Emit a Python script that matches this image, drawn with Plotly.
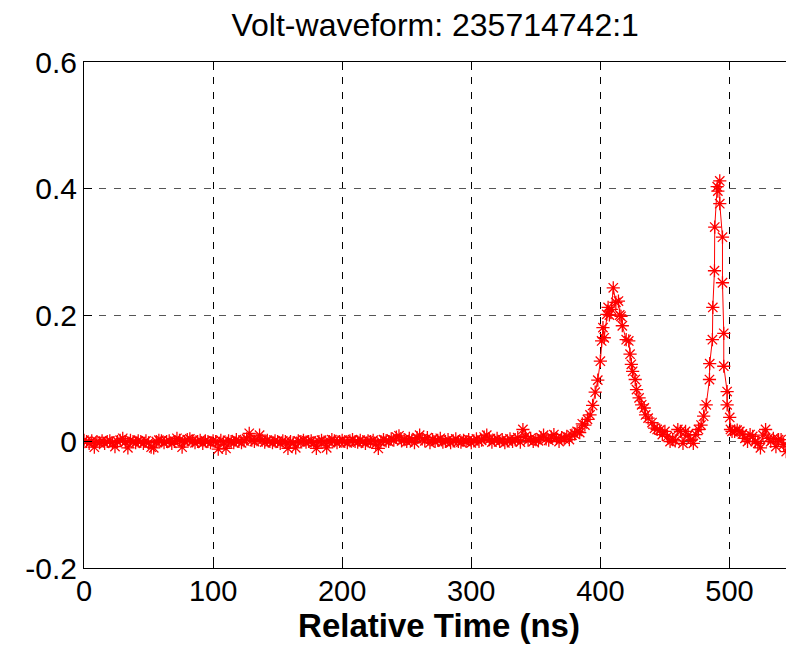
import plotly.graph_objects as go

# ---- data ----
# baseline part: samples every 2 ns from 0 to 378 ns
baseline_t = list(range(0, 380, 2))
baseline_v = [
    0.002, 0.000, -0.003, 0.001, -0.009, 0.000, -0.002, 0.001, -0.003, 0.000,
    0.001, -0.002, -0.008, 0.000, 0.002, 0.005, -0.001, -0.010, 0.002, 0.000,
    -0.002, 0.001, 0.000, -0.003, 0.001, -0.002, -0.009, -0.010, 0.000, 0.002,
    0.001, -0.002, 0.000, 0.001, -0.003, 0.000, 0.005, 0.002, -0.009, 0.000,
    0.003, 0.004, 0.001, -0.002, 0.000, 0.002, -0.003, 0.001, 0.000, -0.002,
    0.001, 0.000, -0.012, 0.002, -0.001, -0.011, 0.001, 0.000, -0.002, 0.003,
    0.000, -0.002, 0.001, 0.004, 0.013, 0.002, 0.000, 0.003, 0.010, 0.002,
    -0.001, 0.002, 0.000, -0.002, 0.001, 0.000, -0.003, 0.001, 0.000, -0.011,
    0.000, -0.002, -0.010, 0.001, 0.000, 0.002, -0.001, 0.000, 0.001, -0.002,
    -0.011, 0.000, 0.002, -0.001, -0.010, 0.000, 0.003, 0.001, -0.002, 0.000,
    0.002, 0.000, -0.002, 0.001, 0.003, 0.000, -0.001, 0.002, 0.000, -0.003,
    0.001, 0.000, 0.002, -0.004, -0.011, 0.000, 0.003, 0.001, 0.000, 0.004,
    0.002, 0.007, 0.009, 0.001, 0.003, 0.000, 0.005, 0.002, -0.002, 0.006,
    0.010, 0.004, 0.001, 0.006, -0.002, 0.003, 0.000, 0.002, 0.005, -0.001,
    0.000, 0.003, -0.002, 0.001, 0.004, 0.000, -0.001, 0.002, 0.000, 0.003,
    -0.002, 0.001, 0.004, 0.000, 0.002, 0.007, 0.010, 0.003, -0.001, 0.002,
    0.005, 0.000, 0.003, -0.002, 0.001, 0.004, 0.000, 0.003, 0.006, -0.001,
    0.019, 0.008, 0.002, 0.005, 0.000, 0.003, 0.001, 0.006, 0.010, 0.004,
    0.002, 0.007, 0.011, 0.005, 0.000, 0.006, 0.004, 0.008, 0.003, 0.010,
]

# pulse part (two peaks) and tail
pulse_t = [
    380, 382, 384, 386, 388, 390, 392, 394, 396, 398,
    400, 401, 402, 403, 405, 406, 407, 408.5, 410, 412,
    414, 415, 416, 417, 420, 422, 423, 424, 425, 427,
    428, 430, 432, 434, 435, 437, 440, 442, 444, 446,
    448, 450, 452, 454, 456, 458, 460, 462, 464, 466,
    468, 470, 472, 474, 476, 478, 480, 482, 484.5, 484.7,
    486.8, 487.1, 488.4, 488.6, 490.5, 491.0, 492.5, 492.5, 494.6, 494.6,
    495.6, 495.6, 498.2, 498.2, 500.2, 500.8, 502, 504, 506, 508,
    510, 512, 514, 516, 518, 520, 522, 524, 526, 528,
    530, 532, 534, 536, 538, 540, 542, 544,
]
pulse_v = [
    0.012, 0.016, 0.014, 0.028, 0.026, 0.035, 0.042, 0.057, 0.078, 0.097,
    0.127, 0.159, 0.180, 0.164, 0.201, 0.212, 0.200, 0.209, 0.243, 0.220,
    0.222, 0.200, 0.198, 0.183, 0.161, 0.159, 0.138, 0.122, 0.111, 0.098,
    0.082, 0.069, 0.058, 0.053, 0.042, 0.037, 0.030, 0.021, 0.019, 0.018,
    0.011, 0.016, 0.008, 0.000, 0.003, 0.001, 0.019, 0.016, -0.003, 0.016,
    0.010, 0.002, -0.003, 0.011, 0.019, 0.026, 0.040, 0.058, 0.098, 0.123,
    0.161, 0.212, 0.270, 0.339, 0.403, 0.396, 0.412, 0.376, 0.323, 0.251,
    0.171, 0.119, 0.079, 0.058, 0.038, 0.019, 0.016, 0.016, 0.018, 0.016,
    0.012, 0.005, 0.000, 0.011, 0.008, 0.000, -0.003, -0.010, 0.010, 0.019,
    0.005, 0.000, 0.005, -0.008, 0.003, 0.003, -0.005, -0.016,
]

time_ns = baseline_t + pulse_t
volts = baseline_v + pulse_v

x_ticks = [0, 100, 200, 300, 400, 500]
y_ticks = [-0.2, 0, 0.2, 0.4, 0.6]
y_tick_text = ["-0.2", "0", "0.2", "0.4", "0.6"]

FONT = "Liberation Sans, Arial, sans-serif"

fig = go.Figure()
fig.add_trace(go.Scatter(
    x=time_ns, y=volts, mode="lines+markers",
    line=dict(color="#ff0000", width=1),
    marker=dict(symbol="asterisk-open", size=11,
                line=dict(color="#ff0000", width=1.3), color="#ff0000"),
    showlegend=False,
))

fig.update_layout(
    width=794, height=656,
    margin=dict(l=76, r=8, t=54, b=96, autoexpand=False),
    paper_bgcolor="white", plot_bgcolor="white",
    font=dict(family=FONT, size=28, color="black"),
    title=dict(text="Volt-waveform: 235714742:1", x=0.538, xanchor="center",
               y=0.974, yanchor="middle", automargin=False,
               font=dict(family=FONT, size=32, color="black")),
    xaxis=dict(
        range=[0, 550], tickvals=x_ticks, ticks="inside", ticklen=8,
        tickcolor="black", showline=True, linecolor="black", linewidth=1,
        mirror="ticks", showgrid=True, gridcolor="black", gridwidth=1,
        griddash="7px,8px", zeroline=False, automargin=False,
        ticklabelstandoff=-3,
        title=dict(text="<b>Relative Time (ns)</b>", standoff=0,
                   font=dict(family=FONT, size=33, color="black")),
        tickfont=dict(family=FONT, size=29, color="black"),
    ),
    yaxis=dict(
        range=[-0.2, 0.6], tickvals=y_ticks, ticktext=y_tick_text,
        ticks="inside", ticklen=8, automargin=False,
        tickcolor="black", showline=True, linecolor="black", linewidth=1,
        mirror="ticks", showgrid=True, gridcolor="#555555", gridwidth=1,
        griddash="7px,8px", zeroline=False,
        tickfont=dict(family=FONT, size=30, color="black"),
    ),
)

fig.write_html("out.html")
